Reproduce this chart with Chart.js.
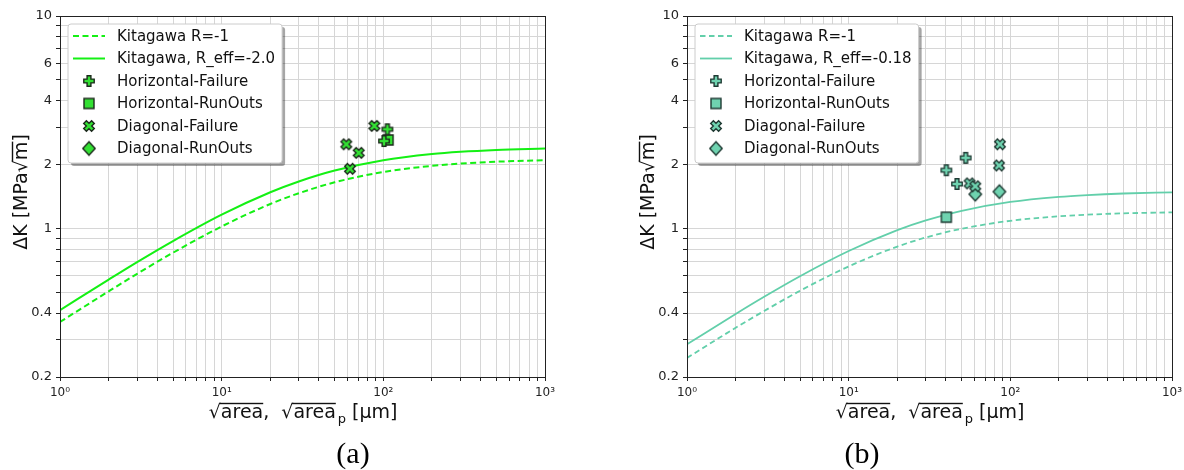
<!DOCTYPE html>
<html>
<head>
<meta charset="utf-8">
<script src="https://cdn.jsdelivr.net/npm/chart.js@4.4.1/dist/chart.umd.min.js"></script>
<style>
  html, body { margin: 0; padding: 0; background: #fff; }
  #wrap { position: relative; width: 1184px; height: 470px; overflow: hidden; }
  .panel { position: absolute; top: 0; width: 592px; height: 470px; }
  .caption {
    position: absolute; top: 438px; line-height: 30px;
    font-family: 'Liberation Serif', 'Times New Roman', serif; font-size: 30px; color: #000;
    transform: translateX(-50%);
  }
</style>
</head>
<body>
<div id="wrap">
  <div class="panel" style="left:0"><canvas id="chartA"></canvas></div>
  <div class="panel" style="left:592px"><canvas id="chartB"></canvas></div>
  <div class="caption" style="left:353px">(a)</div>
  <div class="caption" style="left:862px">(b)</div>
</div>
<script>
const curveX = [1, 2, 3, 5, 10, 20, 30, 50, 100, 200, 300, 500, 1000];

// panel (a)
const kitagawaA = [0.363, 0.506, 0.612, 0.769, 1.022, 1.304, 1.465, 1.649, 1.844, 1.972, 2.021, 2.062, 2.095];
const kitagawaEffA = [0.413, 0.575, 0.695, 0.873, 1.162, 1.481, 1.665, 1.874, 2.095, 2.240, 2.296, 2.343, 2.381];
const horizFailAx = [101, 106];
const horizFailAy = [2.58, 2.93];
const horizRunAx = [107];
const horizRunAy = [2.61];
const diagFailAx = [88, 59, 70.4, 62.2];
const diagFailAy = [3.04, 2.49, 2.27, 1.91];
const diagRunAx = [];
const diagRunAy = [];
const legendA = ['Kitagawa R=-1', 'Kitagawa, R_eff=-2.0', 'Horizontal-Failure', 'Horizontal-RunOuts', 'Diagonal-Failure', 'Diagonal-RunOuts'];

// panel (b)
const kitagawaB = [0.246, 0.341, 0.409, 0.509, 0.663, 0.822, 0.907, 0.997, 1.087, 1.141, 1.161, 1.178, 1.191];
const kitagawaEffB = [0.285, 0.396, 0.477, 0.596, 0.783, 0.982, 1.091, 1.211, 1.333, 1.409, 1.437, 1.461, 1.480];
const horizFailBx = [52.9, 40.2, 46.8];
const horizFailBy = [2.15, 1.88, 1.62];
const horizRunBx = [40.2];
const horizRunBy = [1.13];
const diagFailBx = [56, 60.7, 86.3, 85.1];
const diagFailBy = [1.63, 1.58, 2.49, 1.98];
const diagRunBx = [60.7, 85.6];
const diagRunBy = [1.45, 1.49];
const legendB = ['Kitagawa R=-1', 'Kitagawa, R_eff=-0.18', 'Horizontal-Failure', 'Horizontal-RunOuts', 'Diagonal-Failure', 'Diagonal-RunOuts'];

// ticks
const xGridValues = [1, 2, 3, 4, 5, 6, 7, 8, 9, 10, 20, 30, 40, 50, 60, 70, 80, 90, 100, 200, 300, 400, 500, 600, 700, 800, 900, 1000];
const xLabelValues = [1, 10, 100, 1000];
const xLabelTexts = ['10⁰', '10¹', '10²', '10³'];
const yGridValues = [0.2, 0.3, 0.4, 0.5, 0.6, 0.7, 0.8, 0.9, 1, 2, 3, 4, 5, 6, 7, 8, 9, 10];
const yLabelValues = [0.2, 0.4, 1, 2, 4, 6, 10];
const yLabelTexts = ['0.2', '0.4', '1', '2', '4', '6', '10'];

const FONT = "'DejaVu Sans', sans-serif";
Chart.defaults.font.family = FONT;

function pts(xs, ys) {
  return xs.map((x, i) => ({ x: x, y: ys[i] }));
}

function makeMarker(shape, fill, edge) {
  const s = 18;
  const c = document.createElement('canvas');
  c.width = s; c.height = s;
  const g = c.getContext('2d');
  g.translate(s / 2, s / 2);
  g.beginPath();
  if (shape === 'plus' || shape === 'x') {
    if (shape === 'x') g.rotate(Math.PI / 4);
    const h = shape === 'x' ? 5.6 : 5.2, a = 1.9;
    g.moveTo(-a, -h); g.lineTo(a, -h); g.lineTo(a, -a); g.lineTo(h, -a);
    g.lineTo(h, a); g.lineTo(a, a); g.lineTo(a, h); g.lineTo(-a, h);
    g.lineTo(-a, a); g.lineTo(-h, a); g.lineTo(-h, -a); g.lineTo(-a, -a);
    g.closePath();
  } else if (shape === 'square') {
    g.rect(-5, -5, 10, 10);
  } else {
    g.moveTo(0, -6.8); g.lineTo(6.2, 0); g.lineTo(0, 6.8); g.lineTo(-6.2, 0);
    g.closePath();
  }
  g.fillStyle = fill;
  g.fill();
  g.lineWidth = 1.4;
  g.strokeStyle = edge;
  g.stroke();
  return c;
}

function roundRect(ctx, x, y, w, h, r) {
  ctx.beginPath();
  ctx.moveTo(x + r, y);
  ctx.lineTo(x + w - r, y);
  ctx.arcTo(x + w, y, x + w, y + r, r);
  ctx.lineTo(x + w, y + h - r);
  ctx.arcTo(x + w, y + h, x + w - r, y + h, r);
  ctx.lineTo(x + r, y + h);
  ctx.arcTo(x, y + h, x, y + h - r, r);
  ctx.lineTo(x, y + r);
  ctx.arcTo(x, y, x + r, y, r);
  ctx.closePath();
}

// radical sign + word with a bar over the word, returns the new x
function radical(ctx, x, y, word, fs) {
  const ws = ctx.measureText('√').width;
  const ww = ctx.measureText(word).width;
  ctx.fillText('√', x, y);
  ctx.fillText(word, x + ws, y);
  ctx.fillRect(x + ws - 1.5, y - fs * 0.80, ww + 1.5, 1.4);
  return x + ws + ww;
}

// frame, axis titles and the boxed legend
const decor = {
  id: 'decor',
  afterDraw(chart, args, o) {
    const ctx = chart.ctx;
    const a = chart.chartArea;
    ctx.save();

    ctx.strokeStyle = '#222';
    ctx.lineWidth = 1;
    ctx.strokeRect(Math.round(a.left) + 0.5, Math.round(a.top) + 0.5, Math.round(a.right - a.left), Math.round(a.bottom - a.top));

    ctx.fillStyle = '#111';
    let fs = 19;
    ctx.font = fs + 'px ' + FONT;
    ctx.textBaseline = 'alphabetic';
    ctx.textAlign = 'left';

    // y title
    ctx.save();
    ctx.translate(a.left - 40, 192);
    ctx.rotate(-Math.PI / 2);
    const wy = ctx.measureText('ΔK [MPa√m]').width;
    let x = -wy / 2;
    const by = 7;
    ctx.fillText('ΔK [MPa', x, by);
    x += ctx.measureText('ΔK [MPa').width;
    x = radical(ctx, x, by, 'm', fs);
    ctx.fillText(']', x, by);
    ctx.restore();

    // x title
    const sub = 13;
    const parts = ctx.measureText('√area,  √area [μm]').width + 9;
    x = (a.left + a.right) / 2 - parts / 2;
    const bx = 418;
    x = radical(ctx, x, bx, 'area', fs);
    ctx.fillText(',  ', x, bx);
    x += ctx.measureText(',  ').width;
    x = radical(ctx, x, bx, 'area', fs);
    ctx.font = sub + 'px ' + FONT;
    ctx.fillText('p', x + 2, bx + 5);
    x += 2 + ctx.measureText('p').width;
    ctx.font = fs + 'px ' + FONT;
    ctx.fillText(' [μm]', x, bx);

    // legend
    ctx.font = '15px ' + FONT;
    const tw = Math.max(...o.labels.map(t => ctx.measureText(t).width));
    const x0 = a.left + 8, y0 = a.top + 8;
    const w = 49 + tw + 7, h = 139;
    roundRect(ctx, x0 + 3, y0 + 3, w, h, 3);
    ctx.fillStyle = 'rgba(0,0,0,0.35)';
    ctx.fill();
    roundRect(ctx, x0, y0, w, h, 3);
    ctx.fillStyle = '#fff';
    ctx.fill();
    ctx.strokeStyle = '#cccccc';
    ctx.stroke();

    ctx.textBaseline = 'middle';
    o.labels.forEach((t, i) => {
      const ry = y0 + 12 + i * 22.5;
      if (i < 2) {
        ctx.save();
        ctx.strokeStyle = o.color;
        ctx.lineWidth = o.lineWidth;
        ctx.setLineDash(i === 0 ? o.dash : []);
        ctx.beginPath();
        ctx.moveTo(x0 + 5, ry);
        ctx.lineTo(x0 + 37, ry);
        ctx.stroke();
        ctx.restore();
      } else {
        const m = o.markers[i - 2];
        ctx.drawImage(m, x0 + 21 - m.width / 2, ry - m.height / 2);
      }
      ctx.fillStyle = '#111';
      ctx.fillText(t, x0 + 49, ry + 1);
    });
    ctx.restore();
  }
};

function buildChart(id, p) {
  const markers = ['plus', 'square', 'x', 'diamond'].map(s => makeMarker(s, p.fill, p.edge));
  const scatterSet = (label, xs, ys, m) => ({
    label: label, data: pts(xs, ys), showLine: false,
    pointStyle: m, pointRadius: 5, order: 1
  });
  const gridOpts = { color: '#d6d6d6', lineWidth: 1, tickColor: '#222', tickLength: 4 };
  return new Chart(document.getElementById(id), {
    type: 'scatter',
    data: {
      datasets: [
        scatterSet(p.labels[2], p.hfx, p.hfy, markers[0]),
        scatterSet(p.labels[3], p.hrx, p.hry, markers[1]),
        scatterSet(p.labels[4], p.dfx, p.dfy, markers[2]),
        scatterSet(p.labels[5], p.drx, p.dry, markers[3]),
        {
          label: p.labels[0], data: pts(curveX, p.dashed), showLine: true, pointRadius: 0,
          borderColor: p.line, borderWidth: p.lineWidth, borderDash: p.dash,
          cubicInterpolationMode: 'monotone', order: 2
        },
        {
          label: p.labels[1], data: pts(curveX, p.solid), showLine: true, pointRadius: 0,
          borderColor: p.line, borderWidth: p.lineWidth,
          cubicInterpolationMode: 'monotone', order: 2
        }
      ]
    },
    options: {
      responsive: true,
      maintainAspectRatio: false,
      animation: false,
      events: [],
      layout: { padding: { left: 0, right: p.padRight, top: 16, bottom: 0 } },
      plugins: {
        legend: { display: false },
        tooltip: { enabled: false },
        decor: { labels: p.labels, markers: markers, color: p.line, lineWidth: p.lineWidth, dash: p.dash }
      },
      scales: {
        x: {
          type: 'logarithmic', min: 1, max: 1000,
          afterBuildTicks: s => { s.ticks = xGridValues.map(v => ({ value: v })); },
          afterFit: s => { s.height = 93; s.paddingRight = 0; },
          ticks: {
            autoSkip: false, maxRotation: 0, padding: 5, color: '#222', font: { size: 12 },
            callback: v => { const i = xLabelValues.indexOf(v); return i < 0 ? '' : xLabelTexts[i]; }
          },
          grid: gridOpts,
          border: { color: '#222', width: 1 }
        },
        y: {
          type: 'logarithmic', min: 0.2, max: 10,
          afterBuildTicks: s => { s.ticks = yGridValues.map(v => ({ value: v })); },
          afterFit: s => { s.width = p.axisLeft; },
          ticks: {
            autoSkip: false, padding: 4, color: '#222', font: { size: 13 },
            callback: v => { const i = yLabelValues.indexOf(v); return i < 0 ? '' : yLabelTexts[i]; }
          },
          grid: gridOpts,
          border: { color: '#222', width: 1 }
        }
      }
    },
    plugins: [decor]
  });
}

buildChart('chartA', {
  labels: legendA, dashed: kitagawaA, solid: kitagawaEffA,
  hfx: horizFailAx, hfy: horizFailAy, hrx: horizRunAx, hry: horizRunAy,
  dfx: diagFailAx, dfy: diagFailAy, drx: diagRunAx, dry: diagRunAy,
  line: '#14f014', lineWidth: 2, dash: [6, 3.5],
  fill: '#33e033', edge: '#1c2a1c',
  axisLeft: 60, padRight: 47
});

buildChart('chartB', {
  labels: legendB, dashed: kitagawaB, solid: kitagawaEffB,
  hfx: horizFailBx, hfy: horizFailBy, hrx: horizRunBx, hry: horizRunBy,
  dfx: diagFailBx, dfy: diagFailBy, drx: diagRunBx, dry: diagRunBy,
  line: '#62cfaa', lineWidth: 1.8, dash: [5.5, 3.5],
  fill: '#6fd3b0', edge: '#1f3a33',
  axisLeft: 95, padRight: 12
});
</script>
</body>
</html>
